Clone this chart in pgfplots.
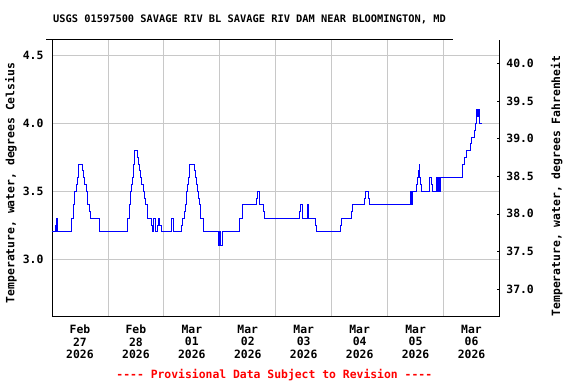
\documentclass[border=0pt]{standalone}
\usepackage{fontspec}
\setmonofont{DejaVu Sans Mono}
\usepackage{pgfplots}
\pgfplotsset{compat=1.18}
\definecolor{gridgray}{RGB}{200,200,200}
\newcommand\lab{\fontsize{11.4}{12.8}\selectfont\ttfamily\bfseries}
\begin{document}
\begin{tikzpicture}
\path[use as bounding box] (-52pt,-68pt) rectangle (524pt,316pt);
\begin{axis}[
  at={(0,0)}, anchor=south west, scale only axis,
  width=447.5pt, height=276pt,
  xmin=0, xmax=192, ymin=2.5794, ymax=4.6159,
  axis x line*=bottom, axis y line*=left,
  axis line style={-, line width=0.8pt},
  xtick={12,36,60,84,108,132,156,180},
  xticklabels={{Feb\\27\\2026},{Feb\\28\\2026},{Mar\\01\\2026},{Mar\\02\\2026},{Mar\\03\\2026},{Mar\\04\\2026},{Mar\\05\\2026},{Mar\\06\\2026}},
  minor xtick={24,48,72,96,120,144,168},
  major tick length=0pt, minor tick length=0pt,
  xminorgrids=true, ymajorgrids=true,
  minor grid style={gridgray, line width=0.8pt},
  major grid style={gridgray, line width=0.8pt},
  ytick={3.0,3.5,4.0,4.5},
  xticklabel style={font=\lab, align=center, inner sep=0pt, anchor=north, yshift=-8.5pt},
  yticklabel style={font=\lab, inner sep=0pt, anchor=east, xshift=-8.4pt,
    /pgf/number format/fixed, /pgf/number format/fixed zerofill,
    /pgf/number format/precision=1, /pgf/number format/assume math mode=true},
  ylabel={Temperature, water, degrees Celsius},
  ylabel style={font=\lab, at={(axis description cs:-0.0916,0.482)}, anchor=center, rotate=0},
]
\addplot[const plot, color={rgb,255:red,0;green,0;blue,255}, line width=0.9pt] coordinates {
(0,3.2) (1.41,3.25) (1.71,3.2) (1.97,3.3) (2.27,3.2)
(8.40,3.3) (9.26,3.4) (9.69,3.5) (10.29,3.55) (10.71,3.6) (11.14,3.65) (11.40,3.7)
(13.11,3.65) (13.54,3.6) (13.97,3.55) (14.57,3.5) (15.13,3.4) (15.99,3.35) (16.41,3.3)
(20.57,3.2)
(32.40,3.3) (33.26,3.4) (33.86,3.5) (34.29,3.55) (34.71,3.6) (34.97,3.7) (35.40,3.8)
(36.69,3.75) (37.29,3.7) (37.71,3.65) (38.14,3.6) (38.57,3.55) (39.13,3.5) (39.69,3.45)
(40.11,3.4) (40.84,3.3) (42.56,3.25) (42.99,3.2) (43.54,3.3) (44.49,3.2) (45.13,3.25)
(45.69,3.3) (46.20,3.25) (46.84,3.2)
(51.43,3.3) (52.29,3.2)
(55.41,3.25) (55.84,3.3) (56.70,3.35) (57.43,3.4) (57.86,3.5) (58.29,3.55) (58.71,3.6) (58.97,3.7)
(61.11,3.65) (61.54,3.6) (61.97,3.55) (62.27,3.5) (63.00,3.45) (63.43,3.4) (63.86,3.3)
(64.97,3.2)
(71.40,3.1) (72.00,3.2) (72.26,3.1) (73.29,3.2)
(80.40,3.3) (81.56,3.4) (87.56,3.45) (87.99,3.5) (88.97,3.4) (90.86,3.35) (91.29,3.3)
(106.11,3.35) (106.54,3.4) (107.27,3.3) (109.41,3.4) (109.97,3.3) (112.84,3.25) (113.40,3.2)
(123.69,3.25) (124.11,3.3) (128.57,3.35) (129.00,3.4) (133.97,3.45) (134.40,3.5) (135.56,3.45) (135.99,3.4)
(153.69,3.5) (153.99,3.4) (154.29,3.5) (154.54,3.4) (154.71,3.5)
(156.26,3.55) (156.69,3.6) (157.11,3.65) (157.54,3.7) (157.71,3.6) (158.27,3.55) (158.70,3.5)
(162.13,3.6) (162.99,3.55) (163.41,3.5) (165.13,3.6) (165.56,3.5) (165.99,3.6) (166.20,3.5) (166.54,3.6)
(175.97,3.7) (176.83,3.75) (177.69,3.8) (179.40,3.85) (179.83,3.9) (181.11,3.95) (181.54,4.0)
(181.97,4.05) (182.27,4.1) (182.70,4.05) (183.00,4.1) (183.43,4.0) (184.29,4.0)
};
\end{axis}
\begin{axis}[
  at={(0,0)}, anchor=south west, scale only axis,
  width=447.5pt, height=276pt,
  xmin=0, xmax=192, ymin=36.643, ymax=40.309,
  axis x line=none, axis y line*=right,
  axis line style={-, line width=0.8pt},
  ytick={37.0,37.5,38.0,38.5,39.0,39.5,40.0},
  tick align=inside, major tick length=3pt,
  tick style={black, line width=0.6pt},
  yticklabel style={font=\lab, inner sep=0pt, anchor=west, xshift=6.7pt,
    /pgf/number format/fixed, /pgf/number format/fixed zerofill,
    /pgf/number format/precision=1, /pgf/number format/assume math mode=true},
  ylabel={Temperature, water, degrees Fahrenheit},
  ylabel style={font=\lab, at={(axis description cs:1.128,0.471)}, anchor=center, rotate=0},
]
\end{axis}
\draw[line width=0.8pt] (-6pt,276.5pt) -- (401pt,276.5pt);
\node[font=\fontsize{10.35}{12}\selectfont\ttfamily\bfseries] at (197.5pt,297pt) {USGS 01597500 SAVAGE RIV BL SAVAGE RIV DAM NEAR BLOOMINGTON, MD};
\node[font=\lab, text={rgb,255:red,255;green,0;blue,0}] at (222.3pt,-59pt) {---- Provisional Data Subject to Revision ----};
\end{tikzpicture}
\end{document}
